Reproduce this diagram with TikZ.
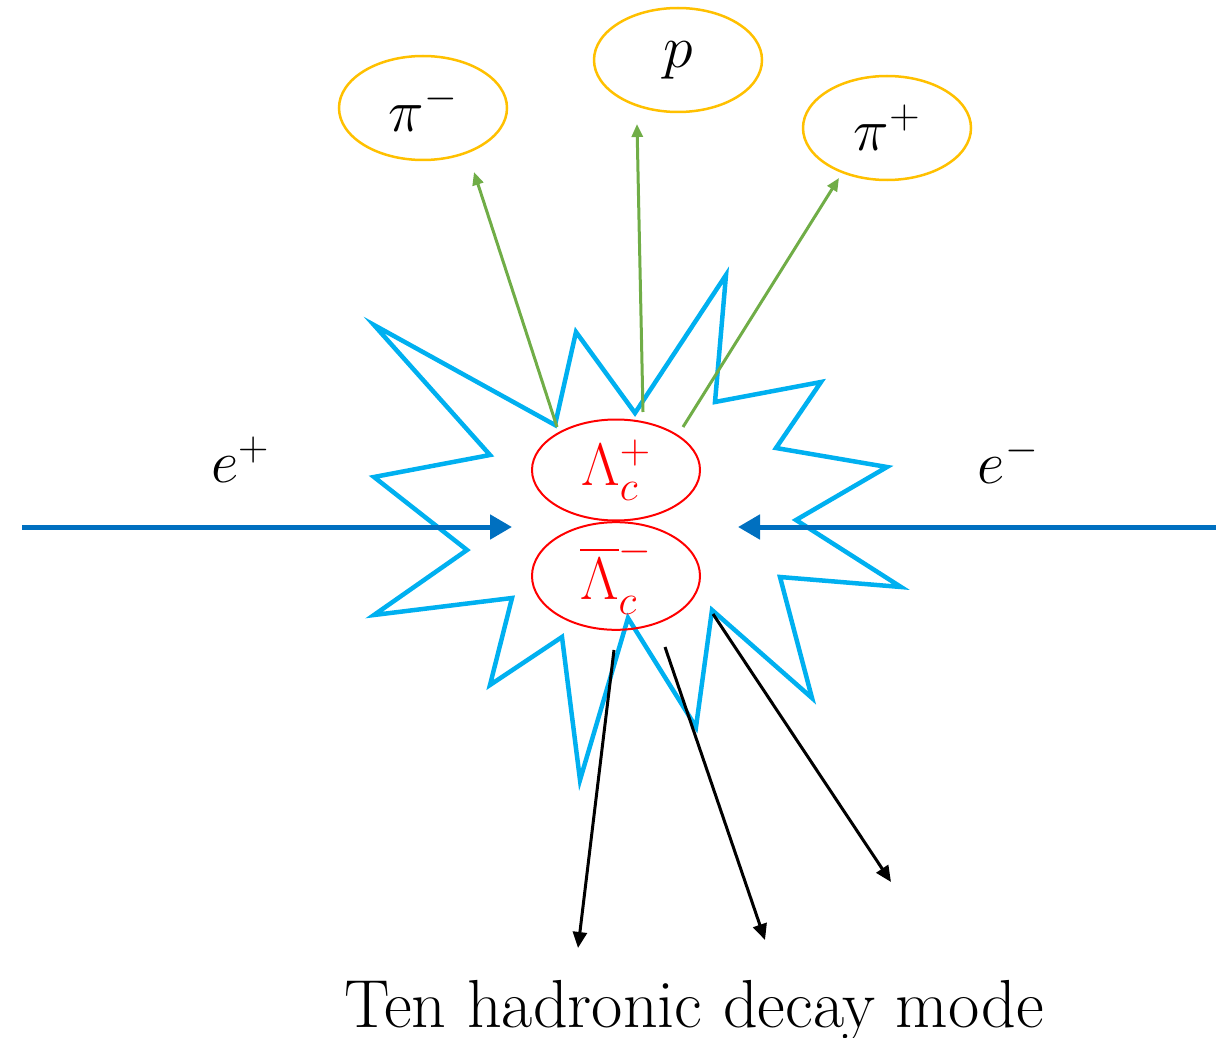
\RequirePackage{fix-cm}
\documentclass[tikz,border=0pt]{standalone}
\usepackage{amsmath,amssymb}
\usepackage{tikz}
\usetikzlibrary{arrows.meta,shapes.geometric}
\usepackage{xcolor}
\definecolor{starblue}{HTML}{00B0F0}
\definecolor{beamblue}{HTML}{0070C0}
\definecolor{hadorange}{HTML}{FFC000}
\definecolor{decgreen}{HTML}{70AD47}

\begin{document}
\begin{tikzpicture}[x=1pt,y=-1pt,font=\fontsize{60}{72}\selectfont,
  lam/.style={ellipse,draw=red,line width=2pt,minimum width=168pt,minimum height=101pt,inner sep=0pt,text=red},
  had/.style={ellipse,draw=hadorange,line width=2.5pt,minimum width=168pt,minimum height=104pt,inner sep=0pt},
  beam/.style={beamblue,line width=5pt,-{Triangle[length=22pt,width=24pt]}},
  gdk/.style={decgreen,line width=3pt,-{Triangle[length=13pt,width=11pt]}},
  bdk/.style={black,line width=3pt,-{Triangle[length=16pt,width=14pt]}}]
\useasboundingbox (0,0) rectangle (1216,1038);
% collision flash
\draw[starblue,line width=4.5pt] (374,325) -- (555,425) -- (576,332) -- (635,413) -- (726,275) -- (715,402) -- (821,382) -- (776,448) -- (887,467) -- (796,520) -- (901,587) -- (780,577) -- (812,698) -- (712,610) -- (696,727) -- (628,618) -- (580,780) -- (562,637) -- (490,685) -- (512,598) -- (374,615) -- (467,550) -- (374,477) -- (490,455) -- cycle;
\node[lam] (lamp) at (616,470) {$\Lambda_c^+$};
\node[lam] (lamm) at (616,576) {$\overline{\Lambda}_c^-$};
\node[had] (pim) at (423,108) {$\pi^-$};
\node[had] (prot) at (678,60) {$p$};
\node[had] (pip) at (887,128) {$\pi^+$};
\node (eplus) at (240,460) {$e^+$};
\node (eminus) at (1008,460) {$e^-$};
\node[anchor=base,font=\fontsize{68}{80}\selectfont] (modes) at (694,1027) {Ten hadronic decay mode};
% beams
\coordinate (beamL) at (22,527);
\coordinate (beamR) at (1216,527);
\coordinate (tipL) at (512,527);
\coordinate (tipR) at (738,527);
\draw[beam] (beamL) -- (tipL);
\draw[beam] (beamR) -- (tipR);
% Lambda_c^+ -> p K pi
\coordinate (g1) at (557,427);
\coordinate (g2) at (643,412);
\coordinate (g3) at (683,427);
\coordinate (h1) at (474,172);
\coordinate (h2) at (637,124);
\coordinate (h3) at (839,178);
\draw[gdk] (g1) -- (h1);
\draw[gdk] (g2) -- (h2);
\draw[gdk] (g3) -- (h3);
% tag side
\coordinate (b1) at (614,650);
\coordinate (b2) at (665,647);
\coordinate (b3) at (713,614);
\coordinate (d1) at (578,948);
\coordinate (d2) at (765,940);
\coordinate (d3) at (891,882);
\draw[bdk] (b1) -- (d1);
\draw[bdk] (b2) -- (d2);
\draw[bdk] (b3) -- (d3);
\end{tikzpicture}
\end{document}
